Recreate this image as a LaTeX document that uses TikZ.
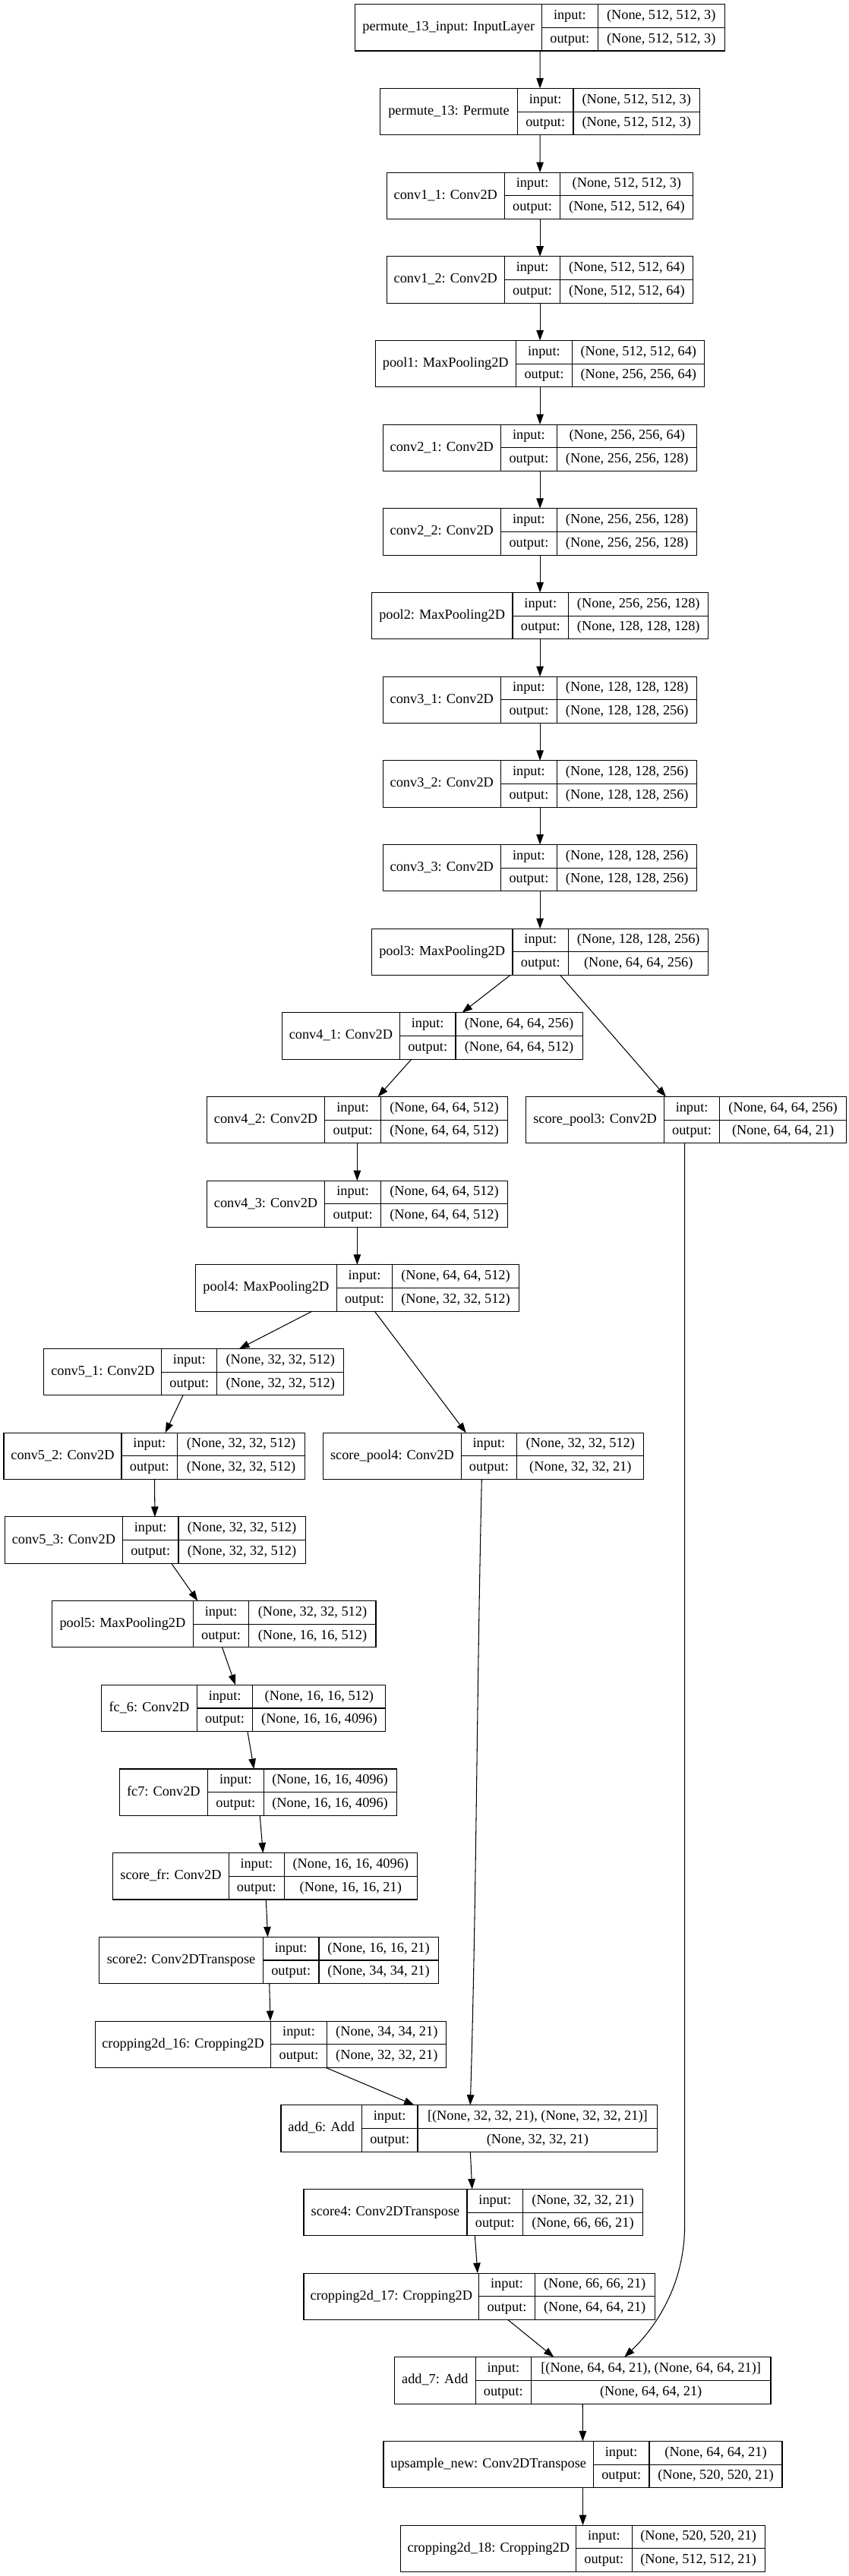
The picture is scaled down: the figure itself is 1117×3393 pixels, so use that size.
\documentclass[tikz,border=0pt]{standalone}
\usepackage{fontspec}
\setmainfont{Liberation Serif}
\usetikzlibrary{arrows.meta}
\newcommand\klayer[9]{%
  \pgfmathsetmacro\kT{5.7+110.68*(#6-1)}%
  \pgfmathsetmacro\kB{\kT+61.3}%
  \pgfmathsetmacro\kM{\kT+30.65}%
  \node[box, minimum width={(#5-#2)*1pt}, anchor=north west] (#1) at (#2,\kT) {};
  \draw[cell] (#3,\kT) -- (#3,\kB) (#4,\kT) -- (#4,\kB) (#3,\kM) -- (#5,\kM);
  \node[txt] (#1-l) at ({(#2+#3)/2},\kM) {#7};
  \node[txt] (#1-i) at ({(#3+#4)/2},{\kT+15.3}) {input:};
  \node[txt] (#1-o) at ({(#3+#4)/2},{\kT+46}) {output:};
  \node[txt] (#1-iv) at ({(#4+#5)/2},{\kT+15.3}) {#8};
  \node[txt] (#1-ov) at ({(#4+#5)/2},{\kT+46}) {#9};
}
\begin{document}
\begin{tikzpicture}[x=1pt,y=-1pt,
  box/.style={draw, line width=1.05pt, inner sep=0pt, outer sep=0pt, minimum height=61.3pt},
  cell/.style={line width=1.05pt},
  txt/.style={inner sep=0pt, text height=12.9pt, text depth=4.1pt, font=\fontsize{18.3}{22}\selectfont},
  arr/.style={draw, line width=1.05pt, -{Triangle[length=13.5pt,width=9.5pt]}}]
\useasboundingbox[fill=white] (0,0) rectangle (1117,3393);
\klayer{inp}{467.9}{713.6}{787.1}{954.3}{1}{permute\_13\_input: InputLayer}{(None, 512, 512, 3)}{(None, 512, 512, 3)}
\klayer{perm}{500.7}{681.4}{755}{921.4}{2}{permute\_13: Permute}{(None, 512, 512, 3)}{(None, 512, 512, 3)}
\klayer{c11}{509.3}{664.3}{737.9}{912.9}{3}{conv1\_1: Conv2D}{(None, 512, 512, 3)}{(None, 512, 512, 64)}
\klayer{c12}{509.3}{664.3}{737.9}{912.9}{4}{conv1\_2: Conv2D}{(None, 512, 512, 64)}{(None, 512, 512, 64)}
\klayer{p1}{494.3}{679.3}{753.6}{927.9}{5}{pool1: MaxPooling2D}{(None, 512, 512, 64)}{(None, 256, 256, 64)}
\klayer{c21}{504.3}{659.3}{733.6}{917.9}{6}{conv2\_1: Conv2D}{(None, 256, 256, 64)}{(None, 256, 256, 128)}
\klayer{c22}{504.3}{659.3}{733.6}{917.9}{7}{conv2\_2: Conv2D}{(None, 256, 256, 128)}{(None, 256, 256, 128)}
\klayer{p2}{489.3}{675}{748.6}{932.9}{8}{pool2: MaxPooling2D}{(None, 256, 256, 128)}{(None, 128, 128, 128)}
\klayer{c31}{504.3}{659.3}{733.6}{917.9}{9}{conv3\_1: Conv2D}{(None, 128, 128, 128)}{(None, 128, 128, 256)}
\klayer{c32}{504.3}{659.3}{733.6}{917.9}{10}{conv3\_2: Conv2D}{(None, 128, 128, 256)}{(None, 128, 128, 256)}
\klayer{c33}{504.3}{659.3}{733.6}{917.9}{11}{conv3\_3: Conv2D}{(None, 128, 128, 256)}{(None, 128, 128, 256)}
\klayer{p3}{489.3}{675}{748.6}{932.9}{12}{pool3: MaxPooling2D}{(None, 128, 128, 256)}{(None, 64, 64, 256)}
\klayer{c41}{371.4}{526.4}{600}{767.1}{13}{conv4\_1: Conv2D}{(None, 64, 64, 256)}{(None, 64, 64, 512)}
\klayer{c42}{272.1}{427.9}{501.4}{668.6}{14}{conv4\_2: Conv2D}{(None, 64, 64, 512)}{(None, 64, 64, 512)}
\klayer{sp3}{692.9}{874.3}{947.9}{1114.3}{14}{score\_pool3: Conv2D}{(None, 64, 64, 256)}{(None, 64, 64, 21)}
\klayer{c43}{272.1}{427.9}{501.4}{668.6}{15}{conv4\_3: Conv2D}{(None, 64, 64, 512)}{(None, 64, 64, 512)}
\klayer{p4}{257.1}{443.6}{516.4}{683.6}{16}{pool4: MaxPooling2D}{(None, 64, 64, 512)}{(None, 32, 32, 512)}
\klayer{c51}{57.9}{212.9}{285.7}{452.9}{17}{conv5\_1: Conv2D}{(None, 32, 32, 512)}{(None, 32, 32, 512)}
\klayer{c52}{5}{160}{233.6}{401.4}{18}{conv5\_2: Conv2D}{(None, 32, 32, 512)}{(None, 32, 32, 512)}
\klayer{sp4}{425.7}{607.1}{680.7}{847.9}{18}{score\_pool4: Conv2D}{(None, 32, 32, 512)}{(None, 32, 32, 21)}
\klayer{c53}{6.4}{161.4}{235}{402.1}{19}{conv5\_3: Conv2D}{(None, 32, 32, 512)}{(None, 32, 32, 512)}
\klayer{p5}{68.6}{254.3}{327.9}{495}{20}{pool5: MaxPooling2D}{(None, 32, 32, 512)}{(None, 16, 16, 512)}
\klayer{fc6}{133.6}{259.3}{332.9}{507.9}{21}{fc\_6: Conv2D}{(None, 16, 16, 512)}{(None, 16, 16, 4096)}
\klayer{fc7}{157.1}{273.6}{347.1}{522.1}{22}{fc7: Conv2D}{(None, 16, 16, 4096)}{(None, 16, 16, 4096)}
\klayer{sfr}{148.6}{301.4}{374.3}{549.3}{23}{score\_fr: Conv2D}{(None, 16, 16, 4096)}{(None, 16, 16, 21)}
\klayer{s2}{130.7}{346.4}{420}{577.1}{24}{score2: Conv2DTranspose}{(None, 16, 16, 21)}{(None, 34, 34, 21)}
\klayer{cr16}{125.7}{356.4}{430.7}{587.9}{25}{cropping2d\_16: Cropping2D}{(None, 34, 34, 21)}{(None, 32, 32, 21)}
\klayer{add6}{370}{476.4}{550}{865.7}{26}{add\_6: Add}{[(None, 32, 32, 21), (None, 32, 32, 21)]}{(None, 32, 32, 21)}
\klayer{s4}{400}{615}{688.6}{846.4}{27}{score4: Conv2DTranspose}{(None, 32, 32, 21)}{(None, 66, 66, 21)}
\klayer{cr17}{400}{630.7}{704.3}{862.1}{28}{cropping2d\_17: Cropping2D}{(None, 66, 66, 21)}{(None, 64, 64, 21)}
\klayer{add7}{519.3}{626.4}{699.3}{1015}{29}{add\_7: Add}{[(None, 64, 64, 21), (None, 64, 64, 21)]}{(None, 64, 64, 21)}
\klayer{up}{505}{781.4}{855}{1030}{30}{upsample\_new: Conv2DTranspose}{(None, 64, 64, 21)}{(None, 520, 520, 21)}
\klayer{cr18}{527.9}{758.6}{832.1}{1007.1}{31}{cropping2d\_18: Cropping2D}{(None, 520, 520, 21)}{(None, 512, 512, 21)}
% connectors
\draw[arr] (inp) -- (perm);
\draw[arr] (perm) -- (c11);
\draw[arr] (c11) -- (c12);
\draw[arr] (c12) -- (p1);
\draw[arr] (p1) -- (c21);
\draw[arr] (c21) -- (c22);
\draw[arr] (c22) -- (p2);
\draw[arr] (p2) -- (c31);
\draw[arr] (c31) -- (c32);
\draw[arr] (c32) -- (c33);
\draw[arr] (c33) -- (p3);
\draw[arr] (p3) -- (c41);
\draw[arr] (p3) -- (sp3);
\draw[arr] (c41) -- (c42);
\draw[arr] (c42) -- (c43);
\draw[arr] (c43) -- (p4);
\draw[arr] (p4) -- (c51);
\draw[arr] (p4) -- (sp4);
\draw[arr] (c51) -- (c52);
\draw[arr] (c52) -- (c53);
\draw[arr] (c53) -- (p5);
\draw[arr] (p5) -- (fc6);
\draw[arr] (fc6) -- (fc7);
\draw[arr] (fc7) -- (sfr);
\draw[arr] (sfr) -- (s2);
\draw[arr] (s2) -- (cr16);
\draw[arr] (cr16) -- (add6);
\draw[arr] ([xshift=-2.5pt]sp4.south) .. controls +(-6.8,300) and +(8.2,-270) .. ([xshift=1.4pt]add6.north);
\draw[arr] (add6) -- (s4);
\draw[arr] (s4) -- (cr17);
\draw[arr] (cr17) -- (add7);
\draw[arr] ([xshift=-2pt]sp3.south) -- ++(0,1425) .. controls +(0,80) and +(40,-38) .. ([xshift=55pt]add7.north);
\draw[arr] (add7) -- (up);
\draw[arr] (up) -- (cr18);
\end{tikzpicture}
\end{document}
